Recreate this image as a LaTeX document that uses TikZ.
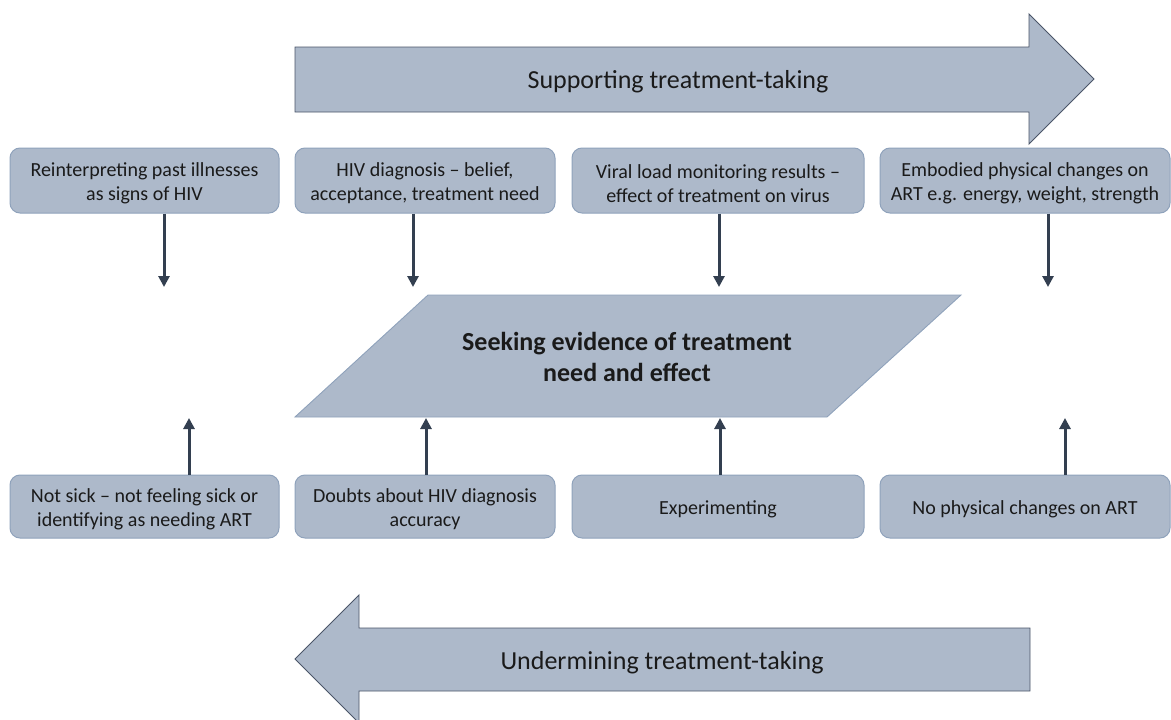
\documentclass[tikz,border=0pt]{standalone}
\usepackage{fontspec}
\setmainfont{Carlito}
\usetikzlibrary{arrows.meta}
\definecolor{boxfill}{HTML}{ADB9CA}
\definecolor{boxline}{HTML}{8FA2BB}
\definecolor{bigline}{HTML}{4A5568}
\definecolor{conn}{HTML}{333F50}
\definecolor{txt}{HTML}{1A1A1A}
\begin{document}
\begin{tikzpicture}[x=1pt,y=-1pt,
  factor/.style={draw=boxline,line width=1pt,fill=boxfill,rounded corners=10pt,
    inner sep=0pt,minimum height=65pt},
  factortext/.style={text=txt,font=\fontsize{20}{24}\selectfont,align=center,inner sep=0pt,yshift=-3pt},
  bigarrow/.style={draw=bigline,line width=0.9pt,fill=boxfill},
  conn/.style={draw=conn,line width=3pt,-{Triangle[width=11pt,length=11pt]}},
  bigtext/.style={text=txt,font=\fontsize{26}{31}\selectfont,align=center},
]
\useasboundingbox (0,0) rectangle (1171,720);
% top arrow
\draw[bigarrow] (295,47) -- (1029,47) -- (1029,14) -- (1094,79) -- (1029,144) -- (1029,112) -- (295,112) -- cycle;
\node[bigtext] (sup) at (678,82) {Supporting treatment-taking};
% bottom arrow
\draw[bigarrow] (1030,628) -- (359,628) -- (359,595) -- (295,659) -- (359,723) -- (359,691) -- (1030,691) -- cycle;
\node[bigtext] (und) at (662,663) {Undermining treatment-taking};
% parallelogram
\draw[draw=boxline,line width=0.9pt,fill=boxfill] (428,295) -- (961,295) -- (827,417) -- (295,417) -- cycle;
\node[bigtext,font=\bfseries\fontsize{26}{31}\selectfont] (seek) at (627,357) {Seeking evidence of treatment\\need and effect};
% top boxes
\node[factor,minimum width=269pt,label={[factortext]center:{Reinterpreting past illnesses\\as signs of HIV}}] (t1) at (144.5,180.5) {};
\node[factor,minimum width=260pt,label={[factortext]center:{HIV diagnosis -- belief,\\acceptance, treatment need}}] (t2) at (425,180.5) {};
\node[factor,minimum width=292pt,label={[factortext]center:{Viral load monitoring results --\\effect of treatment on virus}}] (t3) at (718,180.5) {};
\node[factor,minimum width=290pt,label={[factortext]center:{Embodied physical changes on\\ART e.g. energy, weight, strength}}] (t4) at (1025,180.5) {};
% bottom boxes
\node[factor,minimum width=269pt,minimum height=63pt,label={[factortext]center:{Not sick -- not feeling sick or\\identifying as needing ART}}] (b1) at (144.5,506.5) {};
\node[factor,minimum width=260pt,minimum height=63pt,label={[factortext]center:{Doubts about HIV diagnosis\\accuracy}}] (b2) at (425,506.5) {};
\node[factor,minimum width=292pt,minimum height=63pt,label={[factortext]center:{Experimenting}}] (b3) at (718,506.5) {};
\node[factor,minimum width=290pt,minimum height=63pt,label={[factortext]center:{No physical changes on ART}}] (b4) at (1025,506.5) {};
% connector ends
\coordinate (d1) at (164,287);
\coordinate (d2) at (413,287);
\coordinate (d3) at (719,287);
\coordinate (d4) at (1048,287);
\coordinate (u1) at (189,418);
\coordinate (u2) at (426,418);
\coordinate (u3) at (720,418);
\coordinate (u4) at (1065,418);
\draw[conn] (t1.south -| d1) -- (d1);
\draw[conn] (t2.south -| d2) -- (d2);
\draw[conn] (t3.south -| d3) -- (d3);
\draw[conn] (t4.south -| d4) -- (d4);
\draw[conn] (b1.north -| u1) -- (u1);
\draw[conn] (b2.north -| u2) -- (u2);
\draw[conn] (b3.north -| u3) -- (u3);
\draw[conn] (b4.north -| u4) -- (u4);
\end{tikzpicture}
\end{document}
